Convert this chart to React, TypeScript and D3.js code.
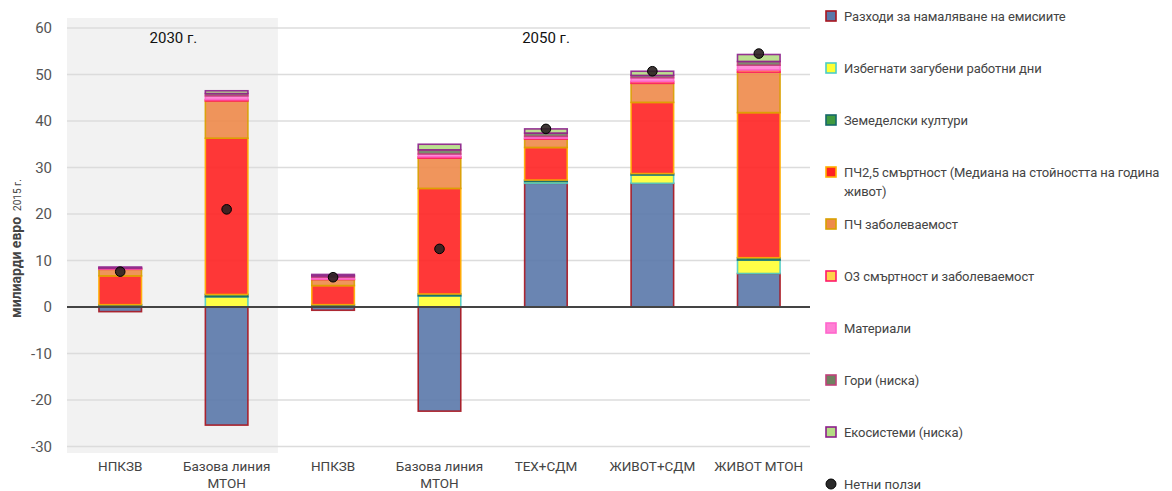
import React from 'react';
import * as d3 from 'd3';

const categories = ['НПКЗВ', 'Базова линия|МТОН', 'НПКЗВ', 'Базова линия|МТОН', 'ТЕХ+СДМ', 'ЖИВОТ+СДМ', 'ЖИВОТ МТОН'];

const seriesNames = [
  'Разходи за намаляване на емисиите',
  'Избегнати загубени работни дни',
  'Земеделски култури',
  'ПЧ2,5 смъртност (Медиана на стойността на година|живот)',
  'ПЧ заболеваемост',
  'O3 смъртност и заболеваемост',
  'Материали',
  'Гори (ниска)',
  'Екосистеми (ниска)',
];

const costs = [-1.0, -25.4, -0.7, -22.4, 26.6, 26.6, 7.2];
const workdays = [0.3, 2.2, 0.3, 2.4, 0.4, 1.8, 2.9];
const crops = [0.2, 0.5, 0.2, 0.4, 0.3, 0.3, 0.5];
const pm25Mortality = [6.2, 33.6, 4.1, 22.7, 7.0, 15.3, 31.2];
const pmMorbidity = [1.4, 8.0, 1.3, 6.5, 1.8, 4.1, 8.7];
const o3 = [0.1, 0.3, 0.1, 0.3, 0.2, 0.4, 0.5];
const materials = [0.1, 0.8, 0.4, 0.6, 0.4, 0.8, 1.0];
const forests = [0.1, 0.5, 0.3, 0.9, 0.7, 0.5, 0.8];
const ecosystems = [0.2, 0.6, 0.3, 1.2, 0.9, 0.9, 1.5];
const netBenefits = [7.6, 21.0, 6.4, 12.5, 38.3, 50.7, 54.5];

const yTicks = [-30, -20, -10, 0, 10, 20, 30, 40, 50, 60];

const fills = ['#5a78aa', '#ffff33', '#3f9a3f', '#ff2222', '#ee8a4a', '#ffd24a', '#ff80d4', '#6f8060', '#b4dc84'];
const strokes = ['#a8141e', '#4ccdc8', '#16686a', '#ffb000', '#d9a000', '#ff1a6a', '#ff66cc', '#c0407a', '#8c1e8c'];

const W = 1172;
const H = 491;
const FONT = 'Roboto, "DejaVu Sans", sans-serif';

const App: React.FC = () => {
  const values = [costs, workdays, crops, pm25Mortality, pmMorbidity, o3, materials, forests, ecosystems];
  const rows = categories.map((_, i) => {
    const r: Record<string, number> = {};
    values.forEach((v, s) => (r['s' + s] = v[i]));
    return r;
  });
  const keys = values.map((_, s) => 's' + s);
  const stacked = d3.stack<Record<string, number>>().keys(keys).offset(d3.stackOffsetDiverging)(rows);

  const x = d3.scaleBand<number>().domain(d3.range(categories.length)).range([67, 812]).paddingInner(0.6).paddingOuter(0.3);
  const y = d3.scaleLinear().domain([-30, 60]).range([446.5, 28]);
  const step = x.step();
  const left = 67;
  const right = 810;

  return (
    <svg width={W} height={H} style={{ position: 'absolute', left: 0, top: 0 }} fontFamily={FONT}>
      <rect x={left} y={18} width={step * 2 - 2} height={435} fill="#f2f2f2" />
      {yTicks.map(t => (
        <g key={t}>
          <line x1={left} x2={right} y1={y(t)} y2={y(t)} stroke={t === 0 ? '#444' : '#dcdcdc'} strokeWidth={t === 0 ? 1.8 : 1.5} />
          <text x={52} y={y(t)} dy="0.35em" textAnchor="end" fontSize={15} fill="#555">{t}</text>
        </g>
      ))}
      <text x={left + step} y={43} textAnchor="middle" fontSize={15} fill="#111">2030 г.</text>
      <text x={546} y={43} textAnchor="middle" fontSize={15} fill="#111">2050 г.</text>

      {stacked.map((layer, s) => (
        <g key={s}>
          {layer.map((d, i) => {
            const y0 = y(d[0]);
            const y1 = y(d[1]);
            return (
              <rect key={i} x={x(i)!} width={x.bandwidth()} y={Math.min(y0, y1)} height={Math.abs(y0 - y1)}
                fill={fills[s]} fillOpacity={0.9} stroke={strokes[s]} strokeWidth={1.6} strokeOpacity={0.9} />
            );
          })}
        </g>
      ))}
      <line x1={left} x2={right} y1={y(0)} y2={y(0)} stroke="#444" strokeWidth={1.8} />

      {netBenefits.map((v, i) => (
        <circle key={i} cx={x(i)! + x.bandwidth() / 2} cy={y(v)} r={4.8} fill="#2a2020" fillOpacity={0.9} stroke="#000" strokeWidth={1} />
      ))}

      {categories.map((c, i) => (
        <text key={i} x={x(i)! + x.bandwidth() / 2} y={471} textAnchor="middle" fontSize={13.5} fill="#444">
          {c.split('|').map((line, j) => (
            <tspan key={j} x={x(i)! + x.bandwidth() / 2} dy={j === 0 ? 0 : 17}>{line}</tspan>
          ))}
        </text>
      ))}

      <text transform="translate(21,318) rotate(-90)" fontSize={14} fill="#444">
        <tspan fontWeight="bold">милиарди евро</tspan>
        <tspan fontSize={10} dx={6}>2015 г.</tspan>
      </text>

      {seriesNames.map((name, s) => {
        const ly = 16 + s * 52;
        return (
          <g key={s}>
            <rect x={826} y={ly - 5} width={10} height={10} fill={fills[s]} stroke={strokes[s]} strokeWidth={1.6} />
            <text x={844} y={ly} fontSize={13} letterSpacing={-0.1} fill="#444">
              {name.split('|').map((line, j) => (
                <tspan key={j} x={844} dy={j === 0 ? '0.35em' : 19}>{line}</tspan>
              ))}
            </text>
          </g>
        );
      })}
      <circle cx={831} cy={484} r={5} fill="#2a2a2a" stroke="#000" strokeWidth={1} />
      <text x={844} y={484} dy="0.35em" fontSize={13} fill="#444">Нетни ползи</text>
    </svg>
  );
};

export default App;
